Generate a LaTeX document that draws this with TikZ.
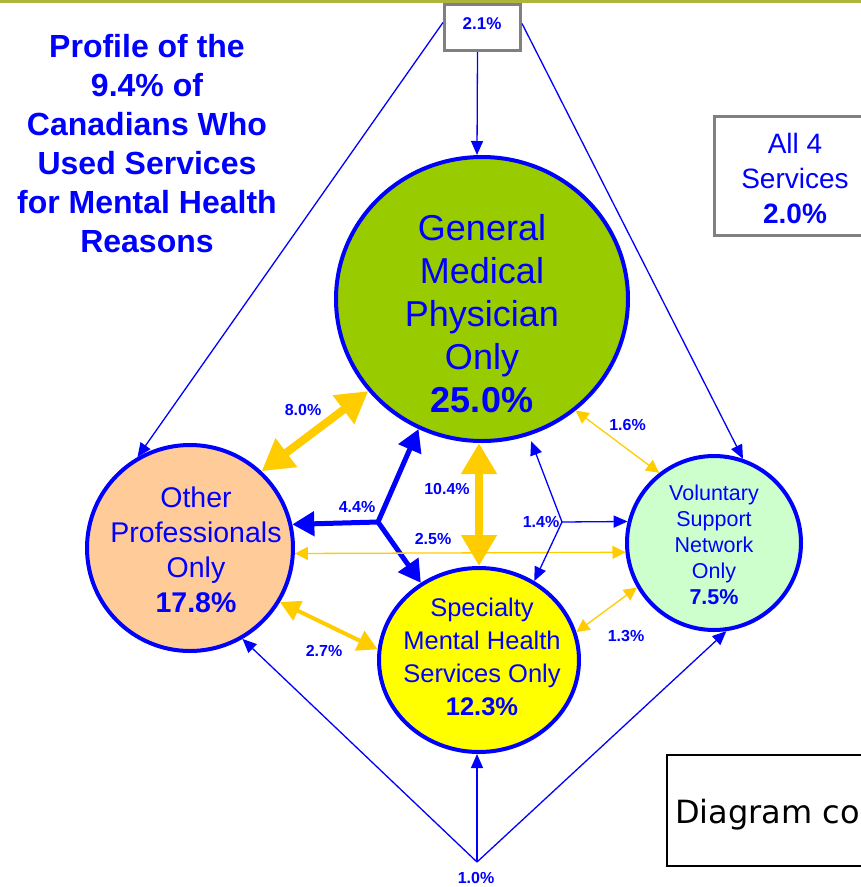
\documentclass[tikz,border=0pt]{standalone}
\usepackage{fontspec}
\setmainfont{Liberation Sans}
\newfontfamily\dejavu{DejaVu Sans}
\usetikzlibrary{arrows.meta,shapes.geometric}
\definecolor{pblue}{HTML}{0000FF}
\definecolor{pyellow}{HTML}{FFCC00}
\definecolor{pgray}{HTML}{808080}
\definecolor{polive}{HTML}{AFB43A}
\definecolor{gpfill}{HTML}{99CC00}
\definecolor{opfill}{HTML}{FFCC99}
\definecolor{spfill}{HTML}{FFFF00}
\definecolor{vnfill}{HTML}{CCFFCC}
\tikzset{
  circ/.style={ellipse, draw=pblue, line width=4pt, inner sep=0pt},
  graybox/.style={rectangle, draw=pgray, line width=3pt, fill=white, inner sep=0pt},
  lbl/.style={font=\bfseries\fontsize{16}{19}\selectfont, text=pblue, inner sep=0pt},
  ctext/.style={text=pblue, align=center, inner sep=0pt},
  thinb/.style={draw=pblue, line width=1.3pt, -{Triangle[length=14pt,width=12pt]}},
  thiny/.style={draw=pyellow, line width=1.3pt, {Triangle[length=13pt,width=13pt]}-{Triangle[length=13pt,width=13pt]}},
  medy/.style={draw=pyellow, line width=4pt, {Triangle[length=20pt,width=21pt]}-{Triangle[length=20pt,width=21pt]}},
  thicky/.style={draw=pyellow, line width=8pt, {Triangle[length=31pt,width=34pt]}-{Triangle[length=31pt,width=34pt]}},
  thickb/.style={draw=pblue, line width=5pt, -{Triangle[length=22pt,width=24pt]}},
}
\begin{document}
\begin{tikzpicture}[x=1pt,y=-1pt]
\useasboundingbox (0,0) rectangle (861,887);
\clip (0,0) rectangle (861,887);
\fill[polive] (0,0) rectangle (861,2.5);

% title
\node[ctext, font=\bfseries\fontsize{32}{39}\selectfont] (title) at (147,143.5)
  {Profile of the\\9.4\% of\\Canadians Who\\Used Services\\for Mental Health\\Reasons};

% boxes
\node[graybox, minimum width=76pt, minimum height=46pt] (b21) at (482.5,27.5) {};
\node[lbl, font=\bfseries\fontsize{17}{20}\selectfont] (b21t) at (482,23.5) {2.1\%};
\node[graybox, minimum width=170pt, minimum height=119pt] (all4) at (799.5,176) {};
\node[ctext, font=\fontsize{28}{35}\selectfont] (all4t) at (795,178) {All 4\\Services\\\textbf{2.0\%}};
\node[rectangle, draw=black, line width=2pt, minimum width=220pt, minimum height=111pt] (diag) at (777,810) {};
\node[anchor=base west, inner sep=0pt, font=\dejavu\fontsize{32}{40}\selectfont] (diagt) at (675,823) {Diagram co};

% circles
\node[circ, fill=gpfill, minimum width=292pt, minimum height=284pt] (gp) at (482,299) {};
\node[circ, fill=opfill, minimum width=206pt, minimum height=206pt] (op) at (190,548) {};
\node[circ, fill=spfill, minimum width=200pt, minimum height=184pt] (sp) at (479,660) {};
\node[circ, fill=vnfill, minimum width=174pt, minimum height=174pt] (vn) at (714,543) {};

% junctions
\coordinate (j44) at (378,522);
\coordinate (j14) at (562,522);
\coordinate (j10) at (477,862);

% connectors
\draw[thinb] ([xshift=-5pt]b21.south) -- ([xshift=-5pt]gp.north);
\draw[thinb] ([yshift=5pt]b21.west) -- (op.120.2);
\draw[thinb] ([yshift=4pt]b21.east) -- (vn.71.6);

\draw[thicky] (op.47.3) -- (gp.219.2);
\draw[thicky] (gp.south -| sp.north) -- (sp.north);

\draw[thickb] (j44) -- (op.13.4);
\draw[thickb] (j44) -- (gp.244.9);
\draw[thickb] (j44) -- (sp.127.1);

\draw[thiny] (op.357.3) -- (vn.186.6);

\draw[thinb, shorten >=6pt] (j14) -- (gp.289.3);
\draw[thinb] (j14) -- (vn.166.3);
\draw[thinb] (j14) -- (sp.55);

\draw[thiny] (gp.310.5) -- (vn.128);
\draw[medy] (op.329.4) -- (sp.174.2);
\draw[thiny] (sp.16.3) -- (vn.210);

\draw[thinb] (j10) -- (op.300.3);
\draw[thinb] (j10) -- (sp.south -| j10);
\draw[thinb] (j10) -- (vn.278.1);

% circle texts
\node[ctext, font=\fontsize{36}{43}\selectfont] (gpt) at (482,313.5) {General\\Medical\\Physician\\Only\\\textbf{25.0\%}};
\node[ctext, font=\fontsize{28.5}{35}\selectfont] (opt) at (196,550) {Other\\Professionals\\Only\\\textbf{17.8\%}};
\node[ctext, font=\fontsize{25.5}{33}\selectfont] (spt) at (482,656.5) {Specialty\\Mental Health\\Services Only\\\textbf{12.3\%}};
\node[ctext, font=\fontsize{21.5}{26}\selectfont] (vnt) at (714,545) {Voluntary\\Support\\Network\\Only\\\textbf{7.5\%}};

% labels
\node[lbl] (l80) at (303,409.5) {8.0\%};
\node[lbl] (l44) at (357,506.5) {4.4\%};
\node[lbl] (l104) at (447,489) {10.4\%};
\node[lbl] (l25) at (433,539) {2.5\%};
\node[lbl] (l14) at (541,521.5) {1.4\%};
\node[lbl] (l16) at (627.5,425) {1.6\%};
\node[lbl] (l27) at (324,651) {2.7\%};
\node[lbl] (l13) at (626,636) {1.3\%};
\node[lbl] (l10) at (476,878) {1.0\%};
\end{tikzpicture}
\end{document}
